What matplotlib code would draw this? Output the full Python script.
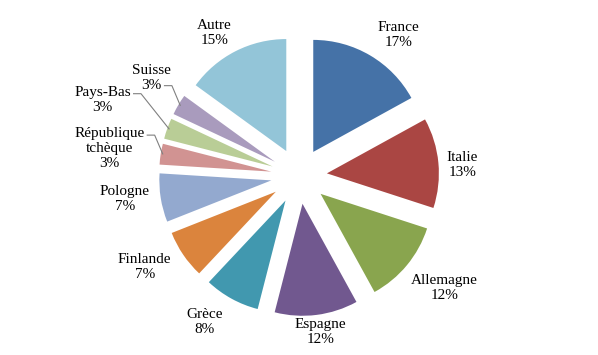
import numpy as np
import matplotlib
matplotlib.use("Agg")
import matplotlib.pyplot as plt

plt.rcParams["font.family"] = ["Liberation Serif", "DejaVu Serif"]

# ------------------------------------------------------------
# données
# ------------------------------------------------------------
pays = ["France", "Italie", "Allemagne", "Espagne", "Grèce", "Finlande",
        "Pologne", "République\ntchèque", "Pays-Bas", "Suisse", "Autre"]
parts = [17, 13, 12, 12, 8, 7, 7, 3, 3, 3, 15]
couleurs = ["#4572A7", "#AA4643", "#89A54E", "#71588F", "#4198AF", "#DB843D",
            "#93A9CF", "#D19392", "#B9CD96", "#A99BBD", "#93C5D8"]

# mise en page des étiquettes (décalage d'angle, distance au centre)
lab_dtheta = [-4.5, -1.5, 2.1, 0.5, -4.0, -3.6, -1.5, 0.6, -1.4, -3.1, 3.7]
lab_dist = [1.54, 1.46, 1.64, 1.41, 1.55, 1.60, 1.57, 1.71, 1.88, 1.58, 1.48]
# traits de rappel : (ligne de texte d'où part le trait, hauteur relative)
leaders = {7: (0, 0.80), 8: (0, 0.72), 9: (-1, 0.22)}

EXPLODE = 0.25
PX = 112.0  # pixels par unité

fig = plt.figure(figsize=(5.98, 3.55), dpi=100)
ax = fig.add_axes([0, 0, 1, 1])

wedges, _ = ax.pie(parts, colors=couleurs, startangle=90, counterclock=False,
                   explode=[EXPLODE] * len(parts), radius=1.0,
                   wedgeprops=dict(linewidth=0))

ax.set_xlim(-299 / PX, (598 - 299) / PX)
ax.set_ylim(-179 / PX, 176 / PX)
ax.set_aspect("auto")
ax.axis("off")

textes = []
for i, w in enumerate(wedges):
    t = np.deg2rad((w.theta1 + w.theta2) / 2 + lab_dtheta[i])
    txt = ax.text(lab_dist[i] * np.cos(t), lab_dist[i] * np.sin(t),
                  f"{pays[i]}\n{parts[i]}%", ha="center", va="center",
                  fontsize=11, linespacing=1.2)
    textes.append(txt)

# traits de rappel (petit palier horizontal puis oblique vers la part)
fig.canvas.draw()
renderer = fig.canvas.get_renderer()
inv = ax.transData.inverted()
for i, (ligne, frac) in leaders.items():
    w = wedges[i]
    bb = textes[i].get_window_extent(renderer)
    morceau = textes[i].get_text().split("\n")[ligne]
    tmp = ax.text(0, 0, morceau, fontsize=11)
    larg = tmp.get_window_extent(renderer).width
    tmp.remove()
    xc = (bb.x0 + bb.x1) / 2
    x0, y0 = inv.transform((xc + larg / 2 + 2, bb.y0 + frac * bb.height))
    x1 = x0 + 8 / PX
    mid = np.deg2rad((w.theta1 + w.theta2) / 2)
    cx, cy = w.center
    ax.plot([x0, x1, cx + 0.98 * np.cos(mid)], [y0, y0, cy + 0.98 * np.sin(mid)],
            color="#808080", lw=0.8, solid_capstyle="butt")

fig.savefig("out.png", dpi=100)
